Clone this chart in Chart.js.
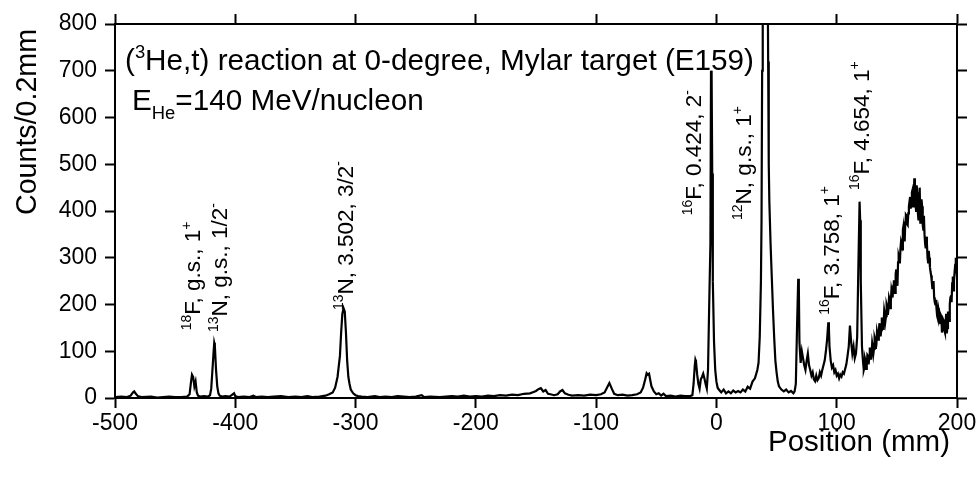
<!DOCTYPE html>
<html>
<head>
<meta charset="utf-8">
<script src="https://cdn.jsdelivr.net/npm/chart.js@4.4.1/dist/chart.umd.min.js"></script>
<style>
    html, body { margin: 0; padding: 0; background: #fff; }
    canvas { display: block; }
</style>
</head>
<body>
<canvas id="spectrum" width="979" height="479"></canvas>
<script>
// focal plane position (mm) and counts per 0.2 mm bin
const positions = [
    -500, -495, -490, -487, -485, -484, -483, -481, -478, -470, -465, -460, -455, -450, -445, -440,
    -438, -437, -436, -435, -434, -433, -432, -431, -429, -426, -423, -421, -420, -419, -418, -417.5,
    -417, -416, -415, -414, -413, -411, -408, -405, -403, -401, -400, -398, -393, -388, -385, -383,
    -378, -373, -368, -362, -356, -350, -345, -340, -336, -330, -325, -322, -319, -317, -315, -313,
    -312, -311, -310, -309, -308, -307, -306, -305, -304, -302, -300, -298, -295, -290, -284, -280,
    -275, -270, -265, -260, -255, -250, -245, -243, -238, -230, -225, -220, -215, -210, -205, -200,
    -195, -190, -185, -180, -175, -170, -165, -160, -155, -152, -150, -148, -146, -144, -142, -140,
    -138, -135, -132, -130, -128, -126, -123, -120, -115, -110, -105, -100, -96, -93, -91, -89,
    -87, -85, -82, -78, -74, -70, -66, -63, -61, -59, -58, -57, -56, -55, -54, -52,
    -50, -48, -46, -44, -42, -38, -34, -30, -26, -22, -20, -19, -18, -17.5, -17, -16,
    -15, -14, -13, -12, -11, -10, -9, -8, -7, -6, -5, -4.5, -4, -3.5, -3, -2,
    -1, 0, 1, 2, 3, 4, 6, 8, 10, 12, 14, 16, 18, 20, 22, 24,
    26, 28, 30, 32, 34, 35, 36, 37, 37.5, 38, 38.5, 39.5, 41, 42, 43, 43.5,
    44, 45, 46, 47, 48, 49, 50, 51, 52, 54, 56, 58, 60, 62, 64, 65,
    66, 67, 68, 68.5, 69, 70, 71, 72, 73, 74, 75, 76, 77, 78, 79, 80,
    81, 82, 83, 84, 85, 86, 87, 88, 89, 90, 91, 92, 93, 93.5, 94, 95,
    96, 97, 98, 99, 100, 101, 102, 103, 104, 105, 106, 107, 108, 109, 110, 111,
    112, 113, 114, 115, 116, 117, 118, 119, 119.5, 120
];
const counts = [
    2, 3, 2, 5, 12, 14, 10, 4, 2, 3, 1, 2, 3, 2, 2, 3,
    8, 30, 50, 45, 25, 35, 12, 5, 3, 4, 3, 6, 20, 60, 100, 118,
    112, 60, 25, 10, 5, 3, 4, 3, 6, 10, 4, 2, 3, 2, 5, 2,
    3, 2, 3, 4, 2, 3, 2, 4, 2, 3, 5, 8, 12, 22, 45, 90,
    140, 180, 192, 185, 140, 80, 45, 30, 18, 10, 6, 4, 3, 2, 4, 2,
    3, 2, 4, 3, 2, 3, 6, 2, 3, 2, 3, 4, 3, 5, 3, 4,
    3, 5, 4, 6, 5, 7, 6, 9, 10, 13, 15, 19, 21, 14, 17, 9,
    8, 6, 8, 14, 17, 10, 7, 5, 6, 5, 7, 6, 8, 12, 22, 32,
    20, 9, 6, 7, 5, 6, 8, 12, 22, 42, 53, 50, 52, 38, 25, 14,
    8, 10, 5, 9, 4, 5, 3, 5, 4, 4, 6, 30, 70, 82, 78, 50,
    30, 20, 40, 45, 52, 42, 30, 20, 60, 200, 330, 700, 690, 480, 250, 120,
    60, 35, 22, 18, 15, 12, 18, 10, 14, 10, 16, 12, 15, 12, 18, 14,
    24, 20, 35, 42, 60, 75, 130, 250, 380, 700, 1000, 1500, 1600, 1200, 720, 500,
    420, 330, 260, 190, 130, 80, 55, 35, 25, 18, 14, 18, 12, 15, 10, 14,
    30, 150, 255, 240, 120, 75, 100, 85, 70, 60, 80, 95, 70, 60, 48, 55,
    40, 36, 48, 38, 42, 55, 48, 60, 70, 80, 100, 125, 162, 150, 110, 80,
    65, 70, 55, 60, 48, 52, 42, 50, 46, 55, 52, 62, 72, 90, 110, 155,
    120, 95, 110, 85, 95, 130, 280, 420, 380, 250
];

// broad bump above the 16F 4.654 line, read at half-mm steps
const bumpPositions = [
    121, 121.5, 122, 122.5, 123, 123.5, 124, 124.5, 125, 125.5, 126, 126.5, 127, 127.5, 128, 128.5,
    129, 129.5, 130, 130.5, 131, 131.5, 132, 132.5, 133, 133.5, 134, 134.5, 135, 135.5, 136, 136.5,
    137, 137.5, 138, 138.5, 139, 139.5, 140, 140.5, 141, 141.5, 142, 142.5, 143, 143.5, 144, 144.5,
    145, 145.5, 146, 146.5, 147, 147.5, 148, 148.5, 149, 149.5, 150, 150.5, 151, 151.5, 152, 152.5,
    153, 153.5, 154, 154.5, 155, 155.5, 156, 156.5, 157, 157.5, 158, 158.5, 159, 159.5, 160, 160.5,
    161, 161.5, 162, 162.5, 163, 163.5, 164, 164.5, 165, 165.5, 166, 166.5, 167, 167.5, 168, 168.5,
    169, 169.5, 170, 170.5, 171, 171.5, 172, 172.5, 173, 173.5, 174, 174.5, 175, 175.5, 176, 176.5,
    177, 177.5, 178, 178.5, 179, 179.5, 180, 180.5, 181, 181.5, 182, 182.5, 183, 183.5, 184, 184.5,
    185, 185.5, 186, 186.5, 187, 187.5, 188, 188.5, 189, 189.5, 190, 190.5, 191, 191.5, 192, 192.5,
    193, 193.5, 194, 194.5, 195, 195.5, 196, 196.5, 197, 197.5, 198, 198.5, 199, 199.5, 200
];
const bumpCounts = [
    110, 90, 75, 60, 65, 85, 80, 62, 70, 92, 90, 72, 85, 108, 100, 82,
    95, 118, 110, 95, 105, 130, 125, 105, 115, 142, 135, 125, 140, 160, 150, 132,
    145, 172, 165, 148, 160, 188, 180, 165, 175, 200, 195, 178, 190, 215, 210, 192,
    205, 232, 225, 215, 240, 252, 235, 225, 265, 275, 250, 240, 290, 305, 300, 288,
    320, 335, 330, 318, 360, 368, 345, 335, 375, 392, 390, 372, 370, 395, 410, 420,
    430, 405, 415, 440, 445, 410, 420, 470, 440, 415, 400, 455, 440, 395, 380, 420,
    450, 375, 390, 425, 410, 370, 360, 390, 350, 330, 320, 345, 330, 300, 290, 315,
    300, 280, 270, 262, 250, 235, 240, 250, 215, 205, 200, 210, 190, 175, 170, 192,
    185, 165, 160, 178, 175, 140, 150, 168, 165, 145, 140, 160, 180, 138, 150, 185,
    175, 165, 200, 215, 220, 205, 245, 260, 230, 250, 270, 285, 300, 280, 260
];

const xTicks = [-500, -400, -300, -200, -100, 0, 100, 200];
const yTicks = [0, 100, 200, 300, 400, 500, 600, 700, 800];

// peak labels: [text, "sup"/"n"] pieces, anchored at (position, counts)
const peakPositions = [-429, -406.5, -302.5, -12.5, 29, 101.7, 126.7];
const peakCounts = [145, 141, 188, 391, 381, 178, 445];
const peakLabels = [
    [["18", "sup"], ["F, g.s., 1", "n"], ["+", "sup"]],
    [["13", "sup"], ["N, g.s., 1/2", "n"], ["-", "sup"]],
    [["13", "sup"], ["N, 3.502, 3/2", "n"], ["-", "sup"]],
    [["16", "sup"], ["F, 0.424, 2", "n"], ["-", "sup"]],
    [["12", "sup"], ["N, g.s., 1", "n"], ["+", "sup"]],
    [["16", "sup"], ["F, 3.758, 1", "n"], ["+", "sup"]],
    [["16", "sup"], ["F, 4.654, 1", "n"], ["+", "sup"]]
];

const titleLine = [["(", "n"], ["3", "sup"], ["He,t) reaction at 0-degree, Mylar target (E159)", "n"]];
const energyLine = [["E", "n"], ["He", "sub"], ["=140 MeV/nucleon", "n"]];

const FONT = "'Liberation Sans', Arial, Helvetica, sans-serif";

function drawRich(ctx, parts, size) {
    let x = 0;
    for (const [text, kind] of parts) {
        const s = kind === "n" ? size : size * 0.62;
        const dy = kind === "sup" ? -size * 0.42 : kind === "sub" ? size * 0.3 : 0;
        ctx.font = `${s}px ${FONT}`;
        ctx.fillText(text, x, dy);
        x += ctx.measureText(text).width;
    }
}

function drawSqueezed(ctx, text, size, width) {
    ctx.font = `${size}px ${FONT}`;
    const w = ctx.measureText(text).width;
    ctx.scale(width / w, 1);
    ctx.fillText(text, -w / 2, 0);
}

const textPlugin = {
    id: "spectrumText",
    afterDatasetsDraw(chart) {
        const { ctx, chartArea, scales } = chart;
        ctx.save();
        ctx.fillStyle = "#000";
        ctx.textBaseline = "alphabetic";

        // header lines inside the frame
        ctx.save();
        ctx.translate(chartArea.left + 10, chartArea.top + 46);
        drawRich(ctx, titleLine, 29.7);
        ctx.restore();
        ctx.save();
        ctx.translate(chartArea.left + 17, chartArea.top + 86);
        drawRich(ctx, energyLine, 29.7);
        ctx.restore();

        // peak labels, rotated, reading upward
        peakLabels.forEach((parts, i) => {
            const x = scales.x.getPixelForValue(peakPositions[i]);
            const y = scales.y.getPixelForValue(peakCounts[i]);
            ctx.save();
            ctx.translate(x, y);
            ctx.rotate(-Math.PI / 2);
            drawRich(ctx, parts, 22.5);
            ctx.restore();
        });

        // axis titles
        ctx.save();
        ctx.translate(36, 122);
        ctx.rotate(-Math.PI / 2);
        drawSqueezed(ctx, "Counts/0.2mm", 30, 186);
        ctx.restore();

        ctx.save();
        ctx.translate(859, 451);
        drawSqueezed(ctx, "Position (mm)", 30, 182);
        ctx.restore();

        ctx.restore();
    }
};

const axisGrid = {
    drawOnChartArea: false,
    drawTicks: true,
    tickLength: 10,
    tickWidth: 2,
    color: "#000"
};
const axisBorder = { display: true, color: "#000", width: 2 };

function fixSize(size) {
    return (scale) => {
        if (scale.isHorizontal()) scale.height = size;
        else scale.width = size;
    };
}

function keepTicks(list) {
    return (scale) => {
        scale.ticks = list.map(v => ({ value: v }));
    };
}

const allPositions = positions.concat(bumpPositions);
const allCounts = counts.concat(bumpCounts);

new Chart(document.getElementById("spectrum"), {
    type: "line",
    data: {
        datasets: [{
            data: allPositions.map((p, i) => ({ x: p, y: allCounts[i] })),
            borderColor: "#000",
            borderWidth: 2.2,
            pointRadius: 0,
            tension: 0,
            fill: false
        }]
    },
    options: {
        responsive: false,
        animation: false,
        devicePixelRatio: 1,
        layout: { padding: 0 },
        plugins: {
            legend: { display: false },
            tooltip: { enabled: false }
        },
        scales: {
            x: {
                type: "linear",
                position: "bottom",
                min: -500,
                max: 200,
                afterBuildTicks: keepTicks(xTicks),
                afterFit: fixSize(81),
                grid: axisGrid,
                border: axisBorder,
                ticks: {
                    color: "#000",
                    padding: 2,
                    maxRotation: 0,
                    font: { family: FONT, size: 23 }
                }
            },
            xTop: {
                type: "linear",
                position: "top",
                min: -500,
                max: 200,
                afterBuildTicks: keepTicks(xTicks),
                afterFit: fixSize(24),
                grid: axisGrid,
                border: axisBorder,
                ticks: { display: false }
            },
            y: {
                type: "linear",
                position: "left",
                min: 0,
                max: 800,
                afterBuildTicks: keepTicks(yTicks),
                afterFit: fixSize(115),
                grid: axisGrid,
                border: axisBorder,
                ticks: {
                    color: "#000",
                    padding: 8,
                    font: { family: FONT, size: 23 }
                }
            },
            yRight: {
                type: "linear",
                position: "right",
                min: 0,
                max: 800,
                afterBuildTicks: keepTicks(yTicks),
                afterFit: fixSize(22),
                grid: axisGrid,
                border: axisBorder,
                ticks: { display: false }
            }
        }
    },
    plugins: [textPlugin]
});
</script>
</body>
</html>
